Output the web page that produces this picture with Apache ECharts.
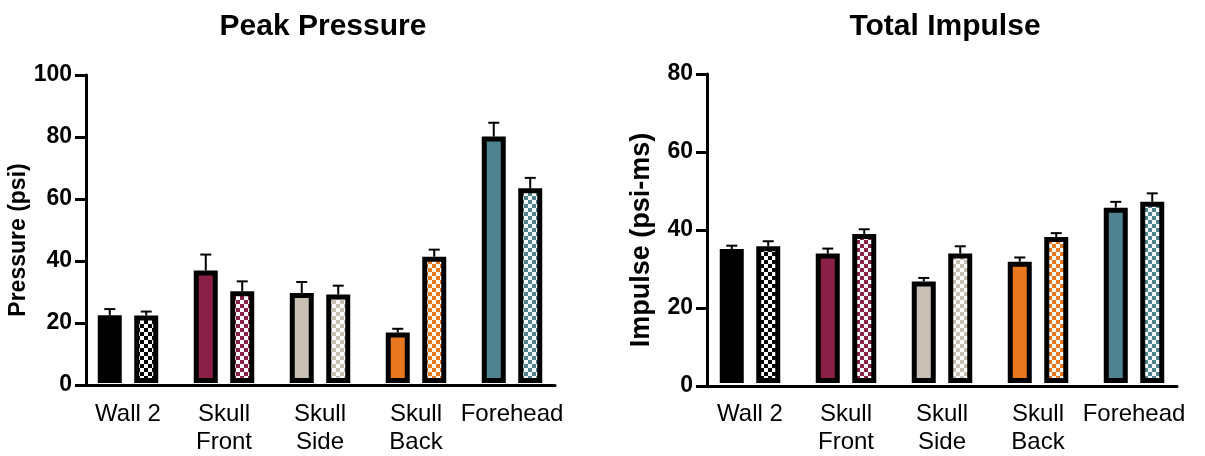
<!DOCTYPE html>
<html>
<head>
<meta charset="utf-8">
<script src="https://cdn.jsdelivr.net/npm/echarts@6/dist/echarts.min.js"></script>
<style>
  html, body { margin: 0; padding: 0; background: #fff; }
  #chart { width: 1205px; height: 456px; }
</style>
</head>
<body>
<div id="chart"></div>
<script>
// Measurement locations and group colours
const categories = ['Wall 2', 'Skull\nFront', 'Skull\nSide', 'Skull\nBack', 'Forehead'];
const groupColors = ['#000000', '#8a1f47', '#c9c0b5', '#e8781e', '#4f838f'];

// Peak pressure (psi): solid = first condition, checkered = second condition
const pressureSolid = [22.0, 36.5, 29.2, 16.4, 80.0];
const pressureSolidErr = [2.0, 5.2, 3.6, 1.2, 4.5];
const pressureChecker = [21.9, 29.8, 28.7, 41.0, 63.2];
const pressureCheckerErr = [1.3, 3.2, 2.9, 2.3, 3.4];

// Total impulse (psi-ms)
const impulseSolid = [34.7, 33.5, 26.3, 31.4, 45.4];
const impulseSolidErr = [0.85, 1.3, 0.9, 1.1, 1.5];
const impulseChecker = [35.4, 38.6, 33.5, 37.8, 46.9];
const impulseCheckerErr = [1.3, 1.2, 1.9, 1.0, 2.2];

// Axis ticks
const pressureTicks = { min: 0, max: 100, interval: 20 };
const impulseTicks = { min: 0, max: 80, interval: 20 };

const FONT = "'Liberation Sans', Arial, Helvetica, sans-serif";
const BAR_W = 24;
const BAR_GAP = 0.52;
const CAP_W = 11;

function checker(color) {
  const c = document.createElement('canvas');
  c.width = 8; c.height = 8;
  const ctx = c.getContext('2d');
  ctx.fillStyle = '#ffffff';
  ctx.fillRect(0, 0, 8, 8);
  ctx.fillStyle = color;
  ctx.fillRect(0, 0, 4, 4);
  ctx.fillRect(4, 4, 4, 4);
  return c;
}

function errorSeries(values, errs, sign, gridIdx) {
  const shift = sign * BAR_W * (1 + BAR_GAP) / 2;
  return {
    type: 'custom',
    xAxisIndex: gridIdx, yAxisIndex: gridIdx,
    z: 1,
    silent: true,
    data: values.map((v, i) => [i, v, errs[i]]),
    renderItem(params, api) {
      const i = api.value(0), v = api.value(1), e = api.value(2);
      const base = api.coord([i, v]);
      const top = api.coord([i, v + e]);
      const x = base[0] + shift;
      const st = { stroke: '#000', lineWidth: 2 };
      return {
        type: 'group',
        children: [
          { type: 'line', shape: { x1: x, y1: base[1], x2: x, y2: top[1] }, style: st },
          { type: 'line', shape: { x1: x - CAP_W / 2, y1: top[1], x2: x + CAP_W / 2, y2: top[1] }, style: st }
        ]
      };
    }
  };
}

function barSeries(values, patterned, gridIdx) {
  return {
    type: 'bar',
    xAxisIndex: gridIdx, yAxisIndex: gridIdx,
    barWidth: BAR_W,
    barGap: (BAR_GAP * 100) + '%',
    z: 2,
    data: values.map((v, i) => ({
      value: v,
      itemStyle: {
        color: patterned ? { image: checker(groupColors[i]), repeat: 'repeat' } : groupColors[i],
        borderColor: '#000',
        borderWidth: 5
      }
    }))
  };
}

// Each panel uses one grid for the bars/category labels and one for the drawn axes
const panels = [
  { title: 'Peak Pressure', name: 'Pressure (psi)', nameSize: 23, nameGap: 50, ticks: pressureTicks,
    solid: pressureSolid, solidErr: pressureSolidErr, chk: pressureChecker, chkErr: pressureCheckerErr,
    barGrid: { left: 80, width: 480, top: 75, height: 310 },
    axisGrid: { left: 86, width: 469, top: 75, height: 310 } },
  { title: 'Total Impulse', name: 'Impulse (psi-ms)', nameSize: 27, nameGap: 52, ticks: impulseTicks,
    solid: impulseSolid, solidErr: impulseSolidErr, chk: impulseChecker, chkErr: impulseCheckerErr,
    barGrid: { left: 702, width: 480, top: 74, height: 312 },
    axisGrid: { left: 707, width: 470, top: 74, height: 312 } }
];

const option = {
  backgroundColor: '#ffffff',
  animation: false,
  title: [],
  grid: [],
  xAxis: [],
  yAxis: [],
  series: []
};

panels.forEach((p, k) => {
  const bg = k * 2, ag = k * 2 + 1;
  option.title.push({
    text: p.title,
    left: p.barGrid.left + p.barGrid.width / 2 - 2,
    top: 7,
    textAlign: 'center',
    textStyle: { fontFamily: FONT, fontWeight: 'bold', fontSize: 30, color: '#000' }
  });
  option.grid.push(Object.assign({ containLabel: false }, p.barGrid));
  option.grid.push(Object.assign({ containLabel: false }, p.axisGrid));

  // bar grid: category labels only
  option.xAxis.push({
    type: 'category', gridIndex: bg, data: categories,
    axisLine: { show: false }, axisTick: { show: false },
    axisLabel: { fontFamily: FONT, fontSize: 24, color: '#000', margin: 17, lineHeight: 28, interval: 0 }
  });
  option.yAxis.push({
    type: 'value', gridIndex: bg, min: p.ticks.min, max: p.ticks.max, interval: p.ticks.interval,
    show: false
  });

  // axis grid: visible axis lines, ticks and value labels
  option.xAxis.push({
    type: 'value', gridIndex: ag, min: 0, max: 1,
    axisLine: { show: true, lineStyle: { color: '#000', width: 3 } },
    axisTick: { show: false }, axisLabel: { show: false }, splitLine: { show: false }
  });
  option.yAxis.push({
    type: 'value', gridIndex: ag, min: p.ticks.min, max: p.ticks.max, interval: p.ticks.interval,
    name: p.name, nameLocation: 'middle', nameGap: p.nameGap, nameRotate: 90,
    nameTextStyle: { fontFamily: FONT, fontWeight: 'bold', fontSize: p.nameSize, color: '#000', padding: [0, 20, 0, 0] },
    axisLine: { show: true, lineStyle: { color: '#000', width: 3 } },
    axisTick: { show: true, length: 11, lineStyle: { color: '#000', width: 3 } },
    axisLabel: { fontFamily: FONT, fontWeight: 'bold', fontSize: 23, color: '#000', margin: 14 },
    splitLine: { show: false }
  });

  option.series.push(errorSeries(p.solid, p.solidErr, -1, bg));
  option.series.push(errorSeries(p.chk, p.chkErr, 1, bg));
  option.series.push(barSeries(p.solid, false, bg));
  option.series.push(barSeries(p.chk, true, bg));
});

const chart = echarts.init(document.getElementById('chart'), null, { renderer: 'canvas' });
chart.setOption(option);
</script>
</body>
</html>
